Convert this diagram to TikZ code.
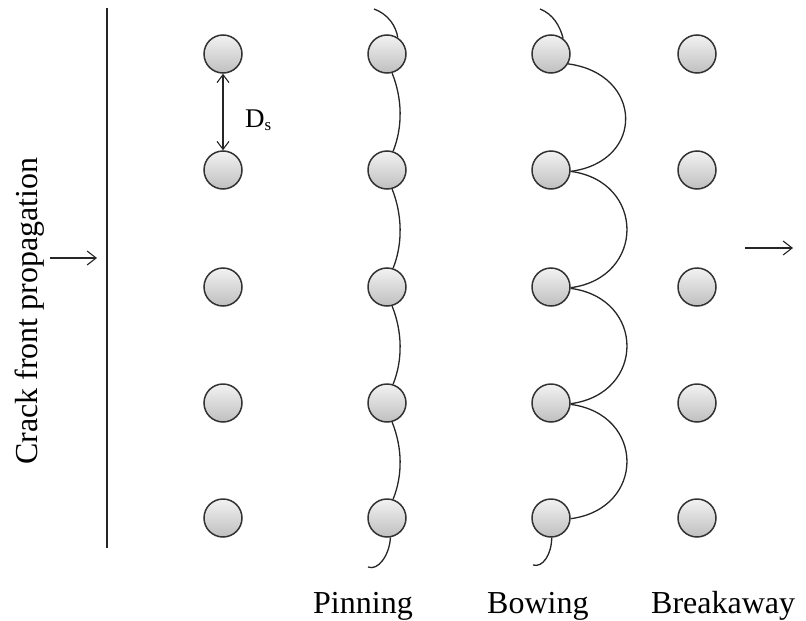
\documentclass[tikz,border=0pt]{standalone}
\usepackage{fontspec}
\setmainfont{Liberation Serif}
\usetikzlibrary{arrows.meta}
\begin{document}
\begin{tikzpicture}[x=1pt,y=-1pt,
  particle/.style={circle, draw=black!80, line width=1.5pt, top color=black!5, bottom color=black!25, minimum size=38pt, inner sep=0pt},
  front/.style={draw=black!85, line width=1.3pt},
  barb/.style={line width=1.1pt, draw=black!85},
  lbl/.style={font=\fontsize{32}{36}\selectfont, inner sep=0pt}
]
\useasboundingbox (0,0) rectangle (806,621);
% particles
\foreach \col/\x in {a/223,b/387,c/551,d/697}
  \foreach \r/\y in {1/54,2/170,3/287,4/403,5/518}
    \node[particle] (\col\r) at (\x,\y) {};
% crack front line
\coordinate (ft) at (107,8);
\coordinate (fb) at (107,548);
\draw[line width=1.1pt, draw=black!85] (ft) -- (fb);
% propagation label
\node[lbl, rotate=90] (prop) at (30,311) {Crack front propagation};
% arrows
\coordinate (la) at (50,258);
\coordinate (lb) at (97,258);
\draw[barb, -{Straight Barb[length=9pt,width=14pt]}] (la) -- (lb);
\coordinate (ra) at (745,248);
\coordinate (rb) at (793,248);
\draw[barb, -{Straight Barb[length=9pt,width=14pt]}] (ra) -- (rb);
% spacing
\draw[barb, {Straight Barb[length=8pt,width=12pt]}-{Straight Barb[length=8pt,width=12pt]}] (a1) -- (a2);
\node[font=\fontsize{27}{30}\selectfont, inner sep=0pt, anchor=base west] (ds) at (245,127) {D\raisebox{-0.25ex}{\fontsize{17}{20}\selectfont s}};
% pinning
\coordinate (pt) at (374,9);
\coordinate (pe) at (368,567);
\draw[front] (pt) .. controls (388,14) and (396,26) .. (b1.57);
\foreach \i/\j in {1/2,2/3,3/4,4/5}
  \draw[front] (b\i.-75) .. controls +(10,25) and +(10,-25) .. (b\j.72);
\draw[front] (b5.-80) .. controls +(-1,18) and +(10,4) .. (pe);
% bowing
\coordinate (bt) at (540,9);
\coordinate (be) at (533,565);
\draw[front] (bt) .. controls (553,14) and (560,26) .. (c1.52);
\draw[front] (c1.-30) .. controls +(75,10) and +(75,-10) .. (c2.-4);
\foreach \i/\j in {2/3,3/4,4/5}
  \draw[front] (c\i.-4) .. controls +(75,10) and +(75,-10) .. (c\j.-2);
\draw[front] (c5.-88) .. controls +(0,16) and +(10,3) .. (be);
% labels
\node[lbl, anchor=base west] (lp) at (313,613) {Pinning};
\node[lbl, anchor=base west] (lbw) at (487,613) {Bowing};
\node[lbl, anchor=base west] (lbr) at (651,613) {Breakaway};
\end{tikzpicture}
\end{document}
